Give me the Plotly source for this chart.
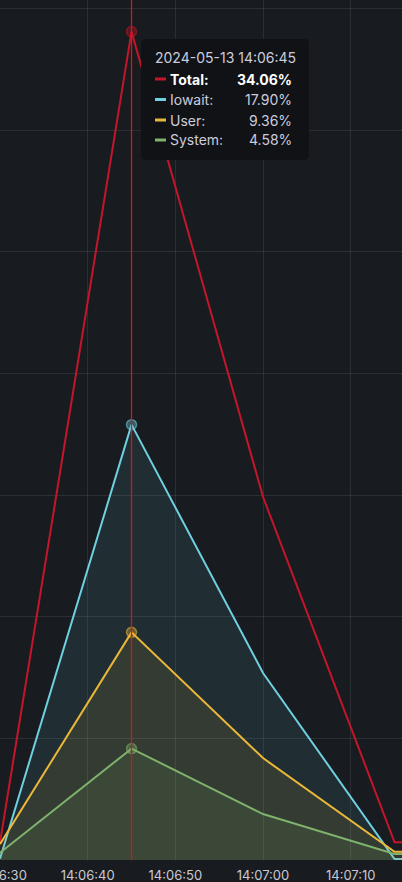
import plotly.graph_objects as go
import pandas as pd

# ---- data ----
times = ["2024-05-13 14:06:30", "2024-05-13 14:06:45", "2024-05-13 14:07:00",
         "2024-05-13 14:07:15", "2024-05-13 14:07:30"]
total = [0.72, 34.06, 14.93, 0.73, 0.73]
iowait = [0.05, 17.90, 7.69, 0.04, 0.04]
user = [0.65, 9.36, 4.19, 0.34, 0.34]
system = [0.30, 4.58, 1.89, 0.25, 0.25]
series_names = ["Total", "Iowait", "User", "System"]
series_colors = ["#C4162A", "#6ED0E0", "#EAB839", "#7EB26D"]
series_fill = [False, True, True, True]
hover_index = 1
x_range = ["2024-05-13 14:06:30", "2024-05-13 14:07:15.85"]
y_range = [0, 35.36]

W, H = 402, 882
MB = 22
PH = H - MB
BG = "#181b1f"
GRID = "rgba(240,250,255,0.09)"
TXT = "#ccccdc"
FONT = "Inter"


def rgba(hexc, a):
    h = hexc.lstrip("#")
    r, g, b = int(h[0:2], 16), int(h[2:4], 16), int(h[4:6], 16)
    return f"rgba({r},{g},{b},{a})"


fig = go.Figure()
all_vals = [total, iowait, user, system]
for name, vals, col, fl in zip(series_names, all_vals, series_colors, series_fill):
    fig.add_trace(go.Scatter(
        x=times, y=vals, name=name, mode="lines",
        line=dict(color=col, width=2),
        fill="tozeroy" if fl else None,
        fillcolor=rgba(col, 0.1) if fl else None,
        hoverinfo="skip", showlegend=False,
    ))

# hover crosshair
hx = times[hover_index]
fig.add_shape(type="line", xref="x", yref="paper", x0=hx, x1=hx, y0=0, y1=1,
              line=dict(color="#E0101E", width=1.3), layer="above")

# hover points
for vals, col in zip(all_vals, series_colors):
    fig.add_trace(go.Scatter(
        x=[hx], y=[vals[hover_index]], mode="markers",
        marker=dict(size=10, color=rgba(col, 0.35), line=dict(color=rgba(col, 0.55), width=1.5)),
        hoverinfo="skip", showlegend=False,
    ))

# ---- tooltip (layout in pixels, converted to paper coords) ----
def px(x):
    return x / W


def py(y):
    return (PH - y) / PH


bx0, bx1, by0, by1, rad = 141, 309, 39, 160, 5
rx, ry = rad / W, rad / PH
X0, X1, Y0, Y1 = px(bx0), px(bx1), py(by0), py(by1)
path = (f"M {X0+rx},{Y0} L {X1-rx},{Y0} Q {X1},{Y0} {X1},{Y0-ry} "
        f"L {X1},{Y1+ry} Q {X1},{Y1} {X1-rx},{Y1} L {X0+rx},{Y1} "
        f"Q {X0},{Y1} {X0},{Y1+ry} L {X0},{Y0-ry} Q {X0},{Y0} {X0+rx},{Y0} Z")
fig.add_shape(type="path", xref="paper", yref="paper", path=path,
              fillcolor="#111216", line=dict(width=0), layer="above")

title_txt = pd.Timestamp(hx).strftime("%Y-%m-%d %H:%M:%S")
fig.add_annotation(xref="paper", yref="paper", x=px(153), y=py(57), text=title_txt,
                   showarrow=False, xanchor="left", yanchor="middle",
                   font=dict(family=FONT, size=14, color=TXT))

row_y = [79, 99.5, 120, 140]
for i, (name, vals, col) in enumerate(zip(series_names, all_vals, series_colors)):
    yy = row_y[i]
    bold = i == 0
    fig.add_shape(type="line", xref="paper", yref="paper",
                  x0=px(155), x1=px(166), y0=py(yy), y1=py(yy),
                  line=dict(color=col, width=3), layer="above")
    fcol = "#ffffff" if bold else TXT
    lab = f"<b>{name}:</b>" if bold else f"{name}:"
    val = f"{vals[hover_index]:.2f}%"
    val = f"<b>{val}</b>" if bold else val
    fig.add_annotation(xref="paper", yref="paper", x=px(168), y=py(yy), text=lab,
                       showarrow=False, xanchor="left", yanchor="middle",
                       font=dict(family=FONT, size=14, color=fcol))
    fig.add_annotation(xref="paper", yref="paper", x=px(294), y=py(yy), text=val,
                       showarrow=False, xanchor="right", yanchor="middle",
                       font=dict(family=FONT, size=14, color=fcol))

fig.update_layout(
    width=W, height=H,
    margin=dict(l=0, r=0, t=0, b=MB, pad=0, autoexpand=False),
    paper_bgcolor=BG, plot_bgcolor=BG,
    xaxis=dict(type="date", range=x_range, tick0="2024-05-13 14:06:40", dtick=10000,
               tickformat="%H:%M:%S", gridcolor=GRID, gridwidth=1, showline=False,
               zeroline=False, ticks="", ticklabeloverflow="allow", automargin=False,
               ticklabelstandoff=6,
               tickfont=dict(family=FONT, size=13, color="#c8c9d2"), fixedrange=True),
    yaxis=dict(range=y_range, dtick=5, gridcolor=GRID, gridwidth=1, showline=False,
               zeroline=False, showticklabels=False, ticks="", fixedrange=True,
               automargin=False),
)

fig.write_html("out.html")
